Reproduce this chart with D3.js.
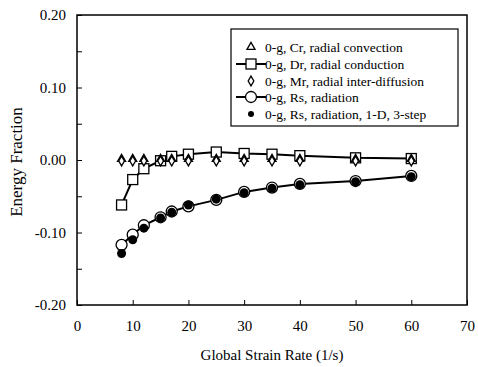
<!DOCTYPE html>
<html>
<head>
<meta charset="utf-8">
<script src="https://cdn.jsdelivr.net/npm/d3@7"></script>
<style>
  body { margin: 0; background: #fff; }
  svg text { font-family: "Liberation Serif", "Times New Roman", serif; fill: #000; }
</style>
</head>
<body>
<div id="chart"></div>
<script>
// strain rates (1/s)
const strain = [8, 10, 12, 15, 17, 20, 25, 30, 35, 40, 50, 60];
// energy fractions
const crConvection = [0, 0, 0, 0, 0, 0, 0, 0, 0, 0, 0, 0];
const drConduction = [-0.062, -0.027, -0.012, -0.001, 0.005, 0.008, 0.011, 0.009, 0.008, 0.006, 0.003, 0.002];
const mrDiffusion  = [0, 0, 0, 0, 0, 0, 0, 0, 0, 0, 0, 0];
const rsRadiation  = [-0.117, -0.103, -0.090, -0.079, -0.071, -0.064, -0.055, -0.044, -0.038, -0.033, -0.029, -0.022];
const rs1D3step    = [-0.129, -0.110, -0.094, -0.080, -0.072, -0.062, -0.054, -0.045, -0.039, -0.034, -0.030, -0.023];

const xTicks = [0, 10, 20, 30, 40, 50, 60, 70];
const yTicks = [-0.20, -0.10, 0.00, 0.10, 0.20];
const yMinor = [-0.20, -0.15, -0.10, -0.05, 0.00, 0.05, 0.10, 0.15, 0.20];

const legendLabels = [
  "0-g, Cr, radial convection",
  "0-g, Dr, radial conduction",
  "0-g, Mr, radial inter-diffusion",
  "0-g, Rs, radiation",
  "0-g, Rs, radiation, 1-D, 3-step"
];

const width = 478, height = 367;
const margin = { top: 15, right: 11, bottom: 62, left: 77 };
const serif = "Liberation Serif";

const svg = d3.select("#chart").append("svg")
    .attr("width", width)
    .attr("height", height)
    .attr("font-family", serif);

const x = d3.scaleLinear().domain([0, 70]).range([margin.left, width - margin.right]);
const y = d3.scaleLinear().domain([-0.20, 0.20]).range([height - margin.bottom, margin.top]);

// frame
svg.append("rect")
   .attr("x", x(0)).attr("y", y(0.20))
   .attr("width", x(70) - x(0)).attr("height", y(-0.20) - y(0.20))
   .attr("fill", "none").attr("stroke", "#000").attr("stroke-width", 1.5);

const fmtY = d => d3.format(".2f")(d).replace("\u2212", "-");

// y axis: inward ticks every 0.05, labels every 0.10
svg.append("g")
   .attr("transform", `translate(${x(0)},0)`)
   .call(d3.axisRight(y).tickValues(yMinor).tickSize(5).tickFormat(""))
   .call(g => g.select(".domain").remove());
svg.append("g")
   .attr("transform", `translate(${x(0)},0)`)
   .call(d3.axisLeft(y).tickValues(yTicks).tickSize(0).tickPadding(11).tickFormat(fmtY))
   .call(g => g.select(".domain").remove())
   .call(g => g.attr("font-family", serif).attr("font-size", 15));

// x axis: inward ticks, labels below
svg.append("g")
   .attr("transform", `translate(0,${y(-0.20)})`)
   .call(d3.axisTop(x).tickValues(xTicks).tickSize(5).tickFormat(""))
   .call(g => g.select(".domain").remove());
svg.append("g")
   .attr("transform", `translate(0,${y(-0.20)})`)
   .call(d3.axisBottom(x).tickValues(xTicks).tickSize(0).tickPadding(15).tickFormat(d3.format("d")))
   .call(g => g.select(".domain").remove())
   .call(g => g.attr("font-family", serif).attr("font-size", 15));

svg.selectAll(".tick line").attr("stroke", "#000").attr("stroke-width", 1);

// axis titles
svg.append("text")
   .attr("x", (x(0) + x(70)) / 2)
   .attr("y", 360)
   .attr("text-anchor", "middle")
   .attr("font-size", 15)
   .text("Global Strain Rate (1/s)");

svg.append("text")
   .attr("transform", `translate(22,${y(0) + 2}) rotate(-90)`)
   .attr("text-anchor", "middle")
   .attr("font-size", 17)
   .text("Energy Fraction");

// markers
const tri = d3.symbol().type(d3.symbolTriangle).size(28);
const dia = d3.symbol().type(d3.symbolDiamond).size(28);

function pts(vals) { return strain.map((s, i) => ({ x: s, y: vals[i] })); }
const line = d3.line().x(d => x(d.x)).y(d => y(d.y));

function drawTri(g, cx, cy) {
  g.append("path").attr("d", tri()).attr("transform", `translate(${cx},${cy - 1})`)
   .attr("fill", "#fff").attr("stroke", "#000").attr("stroke-width", 1.3);
}
function drawDia(g, cx, cy) {
  g.append("path").attr("d", dia()).attr("transform", `translate(${cx},${cy + 1})`)
   .attr("fill", "#fff").attr("stroke", "#000").attr("stroke-width", 1.3);
}
function drawSq(g, cx, cy) {
  g.append("rect").attr("x", cx - 5).attr("y", cy - 5).attr("width", 10).attr("height", 10)
   .attr("fill", "#fff").attr("stroke", "#000").attr("stroke-width", 1.3);
}
function drawCirc(g, cx, cy) {
  g.append("circle").attr("cx", cx).attr("cy", cy).attr("r", 5.5)
   .attr("fill", "#fff").attr("stroke", "#000").attr("stroke-width", 1.3);
}
function drawDot(g, cx, cy) {
  g.append("circle").attr("cx", cx).attr("cy", cy).attr("r", 4.5).attr("fill", "#000");
}

const plot = svg.append("g");

// Rs radiation (open circle, line)
plot.append("path").datum(pts(rsRadiation)).attr("d", line)
    .attr("fill", "none").attr("stroke", "#000").attr("stroke-width", 2);
pts(rsRadiation).forEach(d => drawCirc(plot, x(d.x), y(d.y)));
pts(rs1D3step).forEach(d => drawDot(plot, x(d.x), y(d.y)));

// Dr conduction (square, line)
plot.append("path").datum(pts(drConduction)).attr("d", line)
    .attr("fill", "none").attr("stroke", "#000").attr("stroke-width", 2);
pts(drConduction).forEach(d => drawSq(plot, x(d.x), y(d.y)));

// Cr & Mr (no lines)
pts(crConvection).forEach(d => drawTri(plot, x(d.x), y(d.y)));
pts(mrDiffusion).forEach(d => drawDia(plot, x(d.x), y(d.y)));

// legend
const lg = svg.append("g");
lg.append("rect").attr("x", 231).attr("y", 29).attr("width", 227).attr("height", 97)
  .attr("fill", "#fff").attr("stroke", "#000").attr("stroke-width", 1.2);
const rowY = [47, 64, 81, 97, 114];
const symX = 251;
legendLabels.forEach((t, i) => {
  const cy = rowY[i];
  if (i === 1 || i === 3) {
    lg.append("line").attr("x1", symX - 15).attr("x2", symX + 15).attr("y1", cy).attr("y2", cy)
      .attr("stroke", "#000").attr("stroke-width", 2);
  }
  if (i === 0) drawTri(lg, symX, cy + 1);
  if (i === 1) drawSq(lg, symX, cy);
  if (i === 2) drawDia(lg, symX, cy - 1);
  if (i === 3) drawCirc(lg, symX, cy);
  if (i === 4) lg.append("circle").attr("cx", symX).attr("cy", cy).attr("r", 3).attr("fill", "#000");
  lg.append("text").attr("x", 265).attr("y", cy + 4.5).attr("font-size", 13.5).text(t);
});
</script>
</body>
</html>
